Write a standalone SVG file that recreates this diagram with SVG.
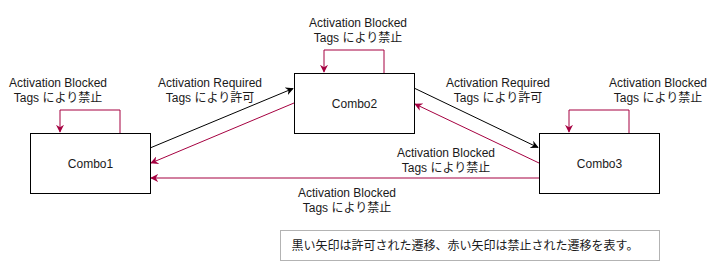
<svg xmlns="http://www.w3.org/2000/svg" width="720" height="261" viewBox="0 0 720 261">
<style>
.box{fill:#fff;stroke:#000;stroke-width:1}
.lbl{font-family:"Liberation Sans","Noto Sans CJK JP",sans-serif;font-size:12px;fill:#1a1a1a;text-anchor:middle}
.blk{stroke:#000;fill:none;stroke-width:1}
.red{stroke:#A50040;fill:none;stroke-width:1}
.note{fill:#fff;stroke:#B3B3B3;stroke-width:1}
</style>
<defs>
<marker id="ab" viewBox="0 0 10 10" refX="9" refY="5" markerWidth="8" markerHeight="8" markerUnits="userSpaceOnUse" orient="auto">
<path d="M0,0 L10,5 L0,10 L3,5 z" fill="#000"/>
</marker>
<marker id="ar" viewBox="0 0 10 10" refX="9" refY="5" markerWidth="8" markerHeight="8" markerUnits="userSpaceOnUse" orient="auto">
<path d="M0,0 L10,5 L0,10 L3,5 z" fill="#A50040"/>
</marker>
</defs>
<g id="connectors">
<path class="red" d="M120,133 V110 H60 V132" marker-end="url(#ar)"/>
<path class="red" d="M384,73 V50 H324 V72" marker-end="url(#ar)"/>
<path class="red" d="M629,133 V110 H569 V132" marker-end="url(#ar)"/>
<path class="blk" d="M150,148 L293,88.5" marker-end="url(#ab)"/>
<path class="red" d="M294,103 L151,163" marker-end="url(#ar)"/>
<path class="blk" d="M414,88 L538,147.5" marker-end="url(#ab)"/>
<path class="red" d="M539,163 L415,104" marker-end="url(#ar)"/>
<path class="red" d="M539,178 L151,178" marker-end="url(#ar)"/>
<text class="lbl" x="58" y="87">Activation Blocked</text>
<text class="lbl" x="58" y="102">Tags により禁止</text>
<text class="lbl" x="358" y="27">Activation Blocked</text>
<text class="lbl" x="358" y="42">Tags により禁止</text>
<text class="lbl" x="658" y="87">Activation Blocked</text>
<text class="lbl" x="658" y="102">Tags により禁止</text>
<text class="lbl" x="210" y="87">Activation Required</text>
<text class="lbl" x="210" y="102">Tags により許可</text>
<text class="lbl" x="498" y="87">Activation Required</text>
<text class="lbl" x="498" y="102">Tags により許可</text>
<text class="lbl" x="446" y="157">Activation Blocked</text>
<text class="lbl" x="446" y="172">Tags により禁止</text>
<text class="lbl" x="347" y="197">Activation Blocked</text>
<text class="lbl" x="347" y="212">Tags により禁止</text>
</g>
<g id="combo1"><rect class="box" x="30.5" y="133.5" width="120" height="60"/><text class="lbl" x="90.5" y="167.5">Combo1</text></g>
<g id="combo2"><rect class="box" x="294.5" y="73.5" width="120" height="60"/><text class="lbl" x="354.5" y="107.5">Combo2</text></g>
<g id="combo3"><rect class="box" x="539.5" y="133.5" width="120" height="60"/><text class="lbl" x="599.5" y="167.5">Combo3</text></g>
<g id="note"><rect class="note" x="280.5" y="230.5" width="379" height="30"/><text class="lbl" x="465" y="249.5">黒い矢印は許可された遷移、赤い矢印は禁止された遷移を表す。</text></g>
</svg>
